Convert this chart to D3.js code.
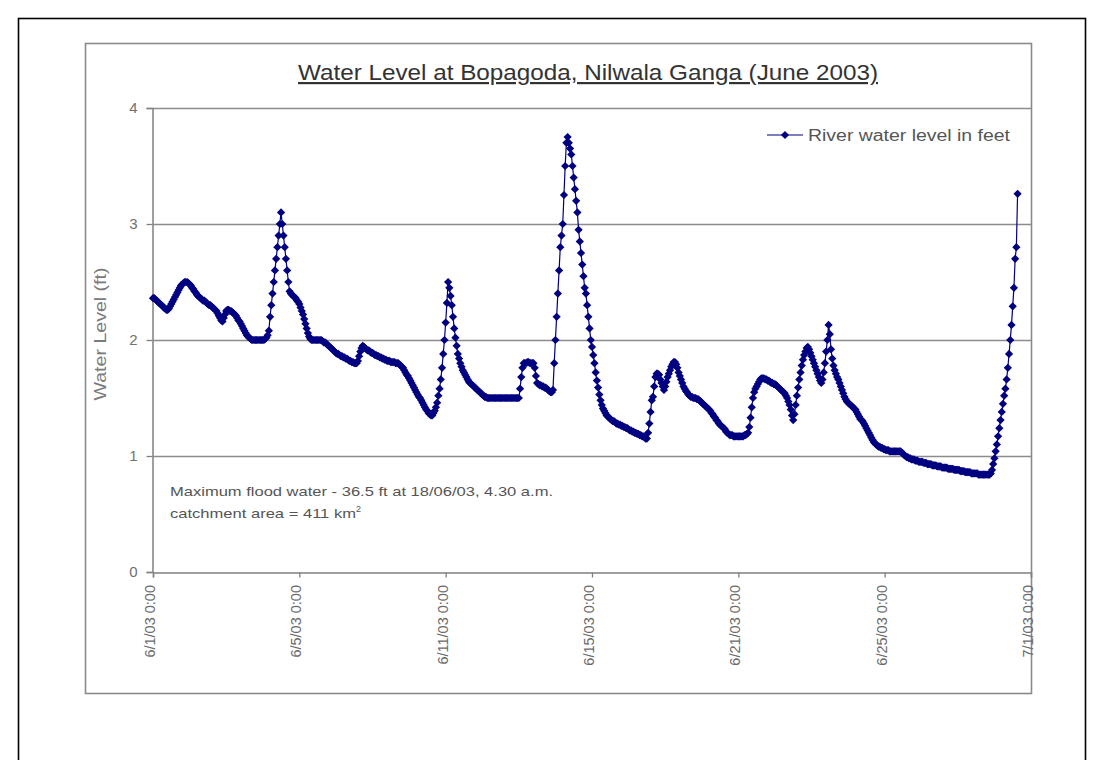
<!DOCTYPE html>
<html>
<head>
<meta charset="utf-8">
<script src="https://cdn.jsdelivr.net/npm/d3@7"></script>
<style>
  html, body { margin: 0; padding: 0; background: #fff; }
  svg { display: block; font-family: Arial, "Liberation Sans", sans-serif; }
</style>
</head>
<body>
<svg id="chart" width="1103" height="760"></svg>
<script>
// Hourly river stage readings (ft), one value per category slot
const levels = [
  2.36,2.36,2.35,2.34,2.33,2.32,2.31,2.30,2.29,2.28,
  2.27,2.26,2.26,2.27,2.29,2.31,2.33,2.35,2.37,2.39,
  2.41,2.43,2.45,2.47,2.48,2.49,2.50,2.50,2.50,2.49,
  2.48,2.47,2.45,2.44,2.42,2.41,2.39,2.38,2.37,2.36,
  2.35,2.34,2.34,2.33,2.32,2.31,2.30,2.30,2.29,2.28,
  2.27,2.26,2.25,2.23,2.21,2.19,2.17,2.16,2.19,2.22,
  2.25,2.26,2.26,2.25,2.25,2.24,2.23,2.22,2.21,2.19,
  2.17,2.16,2.14,2.12,2.10,2.08,2.06,2.04,2.03,2.02,
  2.01,2.00,2.00,2.00,2.00,2.00,2.00,2.00,2.00,2.00,
  2.00,2.00,2.01,2.02,2.04,2.08,2.20,2.30,2.40,2.50,
  2.60,2.70,2.80,2.90,3.00,3.10,3.00,2.90,2.80,2.70,
  2.60,2.50,2.42,2.40,2.39,2.38,2.37,2.36,2.34,2.33,
  2.31,2.28,2.25,2.22,2.18,2.14,2.10,2.06,2.03,2.01,
  2.00,2.00,2.00,2.00,2.00,2.00,2.00,2.00,2.00,1.99,
  1.98,1.98,1.97,1.96,1.95,1.94,1.93,1.92,1.91,1.90,
  1.89,1.88,1.88,1.87,1.86,1.86,1.85,1.85,1.84,1.84,
  1.83,1.82,1.82,1.81,1.81,1.80,1.80,1.80,1.82,1.86,
  1.90,1.93,1.95,1.94,1.93,1.92,1.91,1.91,1.90,1.89,
  1.89,1.88,1.87,1.87,1.86,1.86,1.85,1.85,1.84,1.84,
  1.83,1.83,1.82,1.82,1.82,1.81,1.81,1.81,1.81,1.80,
  1.80,1.80,1.79,1.78,1.77,1.76,1.74,1.72,1.70,1.69,
  1.67,1.65,1.63,1.61,1.59,1.57,1.55,1.53,1.51,1.50,
  1.48,1.46,1.44,1.42,1.40,1.39,1.37,1.36,1.35,1.35,
  1.37,1.39,1.42,1.46,1.52,1.58,1.66,1.76,1.88,2.00,
  2.15,2.32,2.50,2.45,2.38,2.30,2.20,2.10,2.02,1.95,
  1.88,1.84,1.80,1.77,1.74,1.72,1.70,1.68,1.66,1.64,
  1.63,1.62,1.61,1.60,1.59,1.58,1.57,1.56,1.55,1.54,
  1.53,1.52,1.51,1.51,1.50,1.50,1.50,1.50,1.50,1.50,
  1.50,1.50,1.50,1.50,1.50,1.50,1.50,1.50,1.50,1.50,
  1.50,1.50,1.50,1.50,1.50,1.50,1.50,1.50,1.50,1.50,
  1.50,1.58,1.68,1.76,1.80,1.80,1.80,1.81,1.81,1.80,
  1.80,1.80,1.80,1.76,1.69,1.63,1.62,1.61,1.61,1.60,
  1.60,1.59,1.59,1.58,1.57,1.56,1.55,1.55,1.57,1.80,
  2.00,2.20,2.40,2.60,2.80,2.90,3.00,3.25,3.50,3.70,
  3.75,3.70,3.65,3.60,3.50,3.40,3.30,3.20,3.10,2.95,
  2.85,2.75,2.65,2.55,2.45,2.40,2.30,2.20,2.10,2.00,
  1.94,1.87,1.80,1.72,1.65,1.59,1.53,1.48,1.44,1.41,
  1.39,1.37,1.35,1.34,1.33,1.32,1.31,1.30,1.30,1.29,
  1.28,1.28,1.27,1.27,1.26,1.26,1.25,1.25,1.24,1.24,
  1.23,1.22,1.22,1.21,1.21,1.20,1.20,1.19,1.19,1.18,
  1.18,1.17,1.17,1.16,1.15,1.15,1.20,1.28,1.38,1.48,
  1.51,1.60,1.68,1.71,1.71,1.70,1.66,1.63,1.60,1.57,
  1.60,1.64,1.68,1.71,1.74,1.77,1.79,1.81,1.81,1.79,
  1.76,1.72,1.69,1.66,1.63,1.60,1.58,1.56,1.55,1.53,
  1.52,1.51,1.51,1.50,1.50,1.50,1.49,1.49,1.48,1.47,
  1.46,1.45,1.44,1.43,1.42,1.41,1.40,1.39,1.37,1.36,
  1.34,1.33,1.31,1.30,1.28,1.27,1.26,1.25,1.24,1.23,
  1.21,1.20,1.19,1.18,1.18,1.18,1.17,1.17,1.17,1.17,
  1.17,1.17,1.17,1.17,1.17,1.18,1.18,1.19,1.20,1.25,
  1.33,1.42,1.50,1.55,1.58,1.60,1.62,1.64,1.66,1.67,
  1.67,1.67,1.66,1.66,1.65,1.65,1.64,1.63,1.63,1.62,
  1.62,1.61,1.60,1.59,1.58,1.57,1.56,1.55,1.54,1.52,
  1.50,1.47,1.44,1.40,1.35,1.31,1.36,1.44,1.52,1.59,
  1.66,1.72,1.78,1.83,1.87,1.90,1.93,1.94,1.92,1.89,
  1.86,1.83,1.80,1.77,1.74,1.71,1.68,1.65,1.63,1.66,
  1.72,1.80,1.90,2.00,2.13,2.05,1.92,1.84,1.78,1.74,
  1.71,1.68,1.66,1.63,1.60,1.57,1.54,1.51,1.49,1.47,
  1.46,1.45,1.44,1.43,1.42,1.41,1.40,1.38,1.36,1.34,
  1.32,1.31,1.30,1.28,1.26,1.24,1.22,1.20,1.18,1.16,
  1.14,1.12,1.11,1.10,1.09,1.08,1.08,1.07,1.07,1.06,
  1.06,1.05,1.05,1.05,1.04,1.04,1.04,1.04,1.04,1.04,
  1.04,1.04,1.04,1.04,1.03,1.02,1.01,1.00,0.99,0.99,
  0.98,0.98,0.97,0.97,0.97,0.96,0.96,0.96,0.95,0.95,
  0.95,0.95,0.94,0.94,0.94,0.93,0.93,0.93,0.93,0.92,
  0.92,0.92,0.92,0.91,0.91,0.91,0.91,0.90,0.90,0.90,
  0.90,0.90,0.89,0.89,0.89,0.89,0.89,0.88,0.88,0.88,
  0.88,0.88,0.87,0.87,0.87,0.87,0.86,0.86,0.86,0.86,
  0.86,0.85,0.85,0.85,0.85,0.85,0.85,0.84,0.84,0.84,
  0.84,0.84,0.84,0.84,0.84,0.84,0.84,0.85,0.88,0.93,
  0.98,1.04,1.10,1.17,1.24,1.31,1.38,1.45,1.52,1.58,
  1.66,1.76,1.88,2.00,2.13,2.29,2.45,2.70,2.80,3.26
];

// Category axis: one label every 120 slots
const categoryCount = 720;
const tickSlots = [0, 120, 240, 360, 480, 600, 720];
const tickLabels = ["6/1/03 0:00", "6/5/03 0:00", "6/11/03 0:00", "6/15/03 0:00",
                    "6/21/03 0:00", "6/25/03 0:00", "7/1/03 0:00"];
const yTicks = [0, 1, 2, 3, 4];

const titleText = "Water Level at Bopagoda, Nilwala Ganga (June 2003)";
const yTitle = "Water Level (ft)";
const seriesName = "River water level in feet";
const noteLine1 = "Maximum flood water - 36.5 ft at 18/06/03,  4.30 a.m.";
const noteLine2 = "catchment area = 411 km";

const svg = d3.select("#chart");
const plot = { left: 153, right: 1031, top: 108, bottom: 572 };
const navy = "#000080";

const x = d3.scaleLinear().domain([0, categoryCount]).range([plot.left, plot.right]);
const y = d3.scaleLinear().domain([0, 4]).range([plot.bottom, plot.top]);

// page frame
svg.append("rect")
  .attr("x", 18.5).attr("y", 18.5).attr("width", 1067).attr("height", 800)
  .attr("fill", "none").attr("stroke", "#000").attr("stroke-width", 1.6);

// chart area border
svg.append("rect")
  .attr("x", 85.5).attr("y", 43.5).attr("width", 946).attr("height", 650)
  .attr("fill", "#fff").attr("stroke", "#8a8a8a").attr("stroke-width", 1.6);

// horizontal gridlines
svg.append("g").selectAll("line")
  .data(yTicks.filter(d => d > 0))
  .join("line")
  .attr("x1", plot.left).attr("x2", plot.right)
  .attr("y1", d => Math.round(y(d)) + 0.5).attr("y2", d => Math.round(y(d)) + 0.5)
  .attr("stroke", "#8c8c8c").attr("stroke-width", 1.5);

// y axis
const yAxis = d3.axisLeft(y).tickValues(yTicks).tickSize(6).tickPadding(9).tickFormat(d3.format("d"));
const gy = svg.append("g").attr("transform", `translate(${plot.left - 0.5},0)`).call(yAxis);
gy.select(".domain").attr("stroke", "#808080").attr("stroke-width", 1.5);
gy.selectAll(".tick line").attr("stroke", "#808080").attr("stroke-width", 1.3);
gy.selectAll(".tick text").attr("fill", "#707070").attr("font-size", 15)
  .attr("font-family", "Arial, 'Liberation Sans', sans-serif");

// x axis
const xAxis = d3.axisBottom(x).tickValues(tickSlots).tickSize(5).tickFormat("");
const gx = svg.append("g").attr("transform", `translate(0,${plot.bottom + 0.5})`).call(xAxis);
gx.select(".domain").attr("stroke", "#808080").attr("stroke-width", 1.5);
gx.selectAll(".tick line").attr("stroke", "#808080").attr("stroke-width", 1.3);

// rotated category labels
svg.append("g").selectAll("text")
  .data(tickSlots)
  .join("text")
  .attr("transform", d => `translate(${x(d) + 2},${plot.bottom + 13}) rotate(-90)`)
  .attr("text-anchor", "end")
  .attr("font-size", 14.5)
  .attr("fill", "#6a6a6a")
  .text((d, i) => tickLabels[i]);

// y axis title
svg.append("text")
  .attr("transform", `translate(106,${(plot.top + plot.bottom) / 2 - 6}) rotate(-90)`)
  .attr("text-anchor", "middle")
  .attr("font-size", 16)
  .attr("textLength", 133).attr("lengthAdjust", "spacingAndGlyphs")
  .attr("fill", "#7a7a7a")
  .text(yTitle);

// chart title
svg.append("text")
  .attr("x", 298).attr("y", 80)
  .attr("font-size", 22)
  .attr("textLength", 580).attr("lengthAdjust", "spacingAndGlyphs")
  .attr("fill", "#333")
  .style("text-decoration", "underline")
  .text(titleText);

// series line and diamond markers
const line = d3.line().x((d, i) => x(i)).y(d => y(d));
svg.append("path")
  .datum(levels)
  .attr("d", line)
  .attr("fill", "none")
  .attr("stroke", navy)
  .attr("stroke-width", 1.2);

const diamond = {
  draw(ctx, size) {
    const r = Math.sqrt(size / 2);
    ctx.moveTo(0, -r); ctx.lineTo(r, 0); ctx.lineTo(0, r); ctx.lineTo(-r, 0); ctx.closePath();
  }
};
const marker = d3.symbol().type(diamond).size(34);

svg.append("g").selectAll("path")
  .data(levels)
  .join("path")
  .attr("transform", (d, i) => `translate(${x(i)},${y(d)})`)
  .attr("d", marker)
  .attr("fill", navy);

// legend
const lg = svg.append("g").attr("transform", "translate(767,135)");
lg.append("line").attr("x1", 0).attr("x2", 36).attr("y1", 0).attr("y2", 0)
  .attr("stroke", navy).attr("stroke-width", 1.2);
lg.append("path").attr("transform", "translate(18,0)").attr("d", marker).attr("fill", navy);
lg.append("text").attr("x", 41).attr("y", 6)
  .attr("font-size", 16)
  .attr("textLength", 202).attr("lengthAdjust", "spacingAndGlyphs")
  .attr("fill", "#555")
  .text(seriesName);

// annotation
const note = svg.append("g").attr("fill", "#555").attr("font-size", 13.5);
note.append("text").attr("x", 170).attr("y", 496)
  .attr("textLength", 383).attr("lengthAdjust", "spacingAndGlyphs")
  .text(noteLine1);
const n2 = note.append("text").attr("x", 170).attr("y", 518);
n2.append("tspan")
  .attr("textLength", 186).attr("lengthAdjust", "spacingAndGlyphs")
  .text(noteLine2);
n2.append("tspan").attr("dy", -6).attr("font-size", 9).text("2");
</script>
</body>
</html>
